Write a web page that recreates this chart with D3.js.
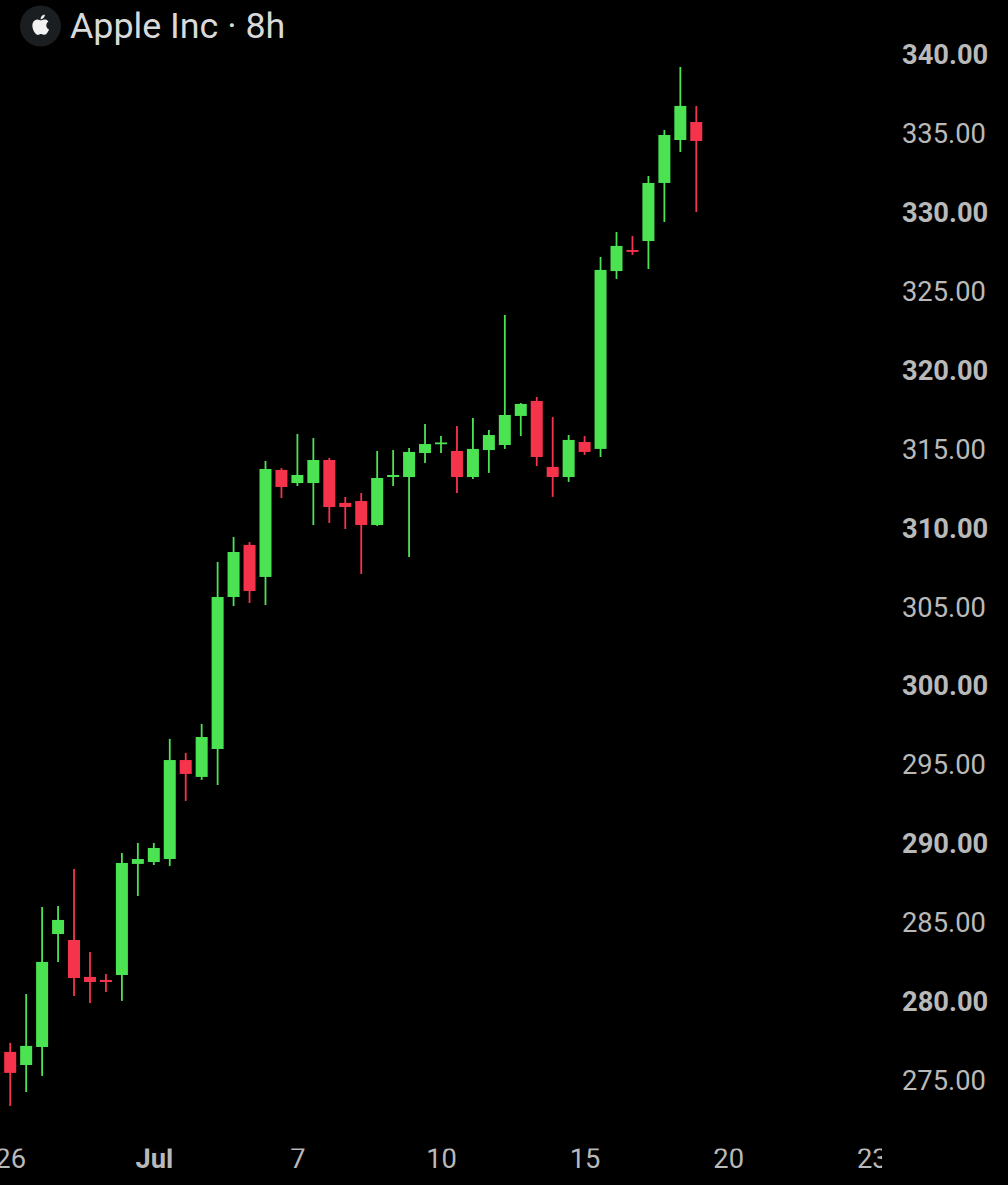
<!DOCTYPE html>
<html><head><meta charset="utf-8">
<script src="https://d3js.org/d3.v7.min.js"></script>
<style>html,body{margin:0;padding:0;background:#000;overflow:hidden}svg{display:block}</style>
</head><body><div id="chart"></div>
<script>
const title = "Apple Inc · 8h";
const opens = [276.78,275.95,277.09,284.25,283.87,281.53,281.34,281.65,288.69,288.81,289.0,295.27,294.2,295.97,305.6,308.9,306.87,313.65,312.82,312.82,314.28,311.56,311.68,310.16,313.2,313.2,314.72,315.29,314.85,313.2,314.91,315.23,317.07,318.02,313.84,313.2,315.42,314.98,326.25,327.58,328.15,331.83,334.55,335.69];
const highs = [277.35,280.45,285.96,286.03,288.37,283.11,281.72,289.38,290.02,290.02,296.61,295.72,297.56,307.82,309.4,309.08,314.22,313.77,315.93,315.67,314.41,311.94,312.19,314.85,314.91,315.04,316.56,315.8,316.43,316.94,316.18,323.47,317.89,318.27,317.0,315.86,315.8,327.14,328.72,328.47,332.27,335.19,339.18,336.71];
const lows = [273.36,274.24,275.26,282.48,280.32,279.88,280.58,280.01,286.66,288.62,288.56,292.68,294.01,293.69,305.03,305.22,305.09,311.87,312.63,310.16,310.29,309.91,307.06,310.1,312.63,308.13,314.09,314.72,312.19,313.08,313.46,314.98,315.8,313.9,311.94,312.89,314.6,314.47,325.75,327.27,326.38,329.36,333.79,329.99];
const closes = [275.45,277.16,282.48,285.14,281.46,281.21,281.21,288.75,289.0,289.7,295.27,294.39,296.73,305.6,308.45,305.98,313.71,312.57,313.33,314.28,311.3,311.3,310.16,313.14,313.33,314.79,315.29,315.39,313.2,314.98,315.86,317.13,317.83,314.47,313.2,315.55,314.79,326.32,327.84,327.46,331.83,334.87,336.71,334.49];
const xTickIndex = [0,9,18,27,36,45,54];
const xTickLabels = ["26","Jul","7","10","15","20","23"];
const xTickBold = ["Jul"];
const priceTicks = [340,335,330,325,320,315,310,305,300,295,290,285,280,275];
const priceBold = [340,330,320,310,300,290,280];
const upColor = "#4ce353", downColor = "#f5344c", labelColor = "#b9b9b9";

const W = 1008, H = 1185;
const svg = d3.select("#chart").append("svg").attr("width",W).attr("height",H)
  .style("background","#000").style("font-family","Roboto, sans-serif");
const x = d3.scaleLinear().domain([0,54]).range([10.2,871.8]);
const y = d3.scaleLinear().domain([275,340]).range([1080,54]);
svg.append("defs").append("clipPath").attr("id","plot").append("rect")
  .attr("x",0).attr("y",0).attr("width",882).attr("height",H);
const candles = d3.range(opens.length).map(i=>({i,o:opens[i],h:highs[i],l:lows[i],c:closes[i]}));
const g = svg.append("g").selectAll("g").data(candles).join("g")
  .attr("fill",d=>d.c>=d.o?upColor:downColor).attr("stroke",d=>d.c>=d.o?upColor:downColor);
g.append("line").attr("x1",d=>x(d.i)).attr("x2",d=>x(d.i)).attr("y1",d=>y(d.h)).attr("y2",d=>y(d.l))
  .attr("stroke-width",1.8);
g.append("rect").attr("stroke","none").attr("x",d=>x(d.i)-6).attr("width",12)
  .attr("y",d=>y(Math.max(d.o,d.c))).attr("height",d=>Math.max(1.8,Math.abs(y(d.o)-y(d.c))));

const yAxis = svg.append("g").attr("transform","translate(902,0.8)")
  .call(d3.axisRight(y).tickValues(priceTicks).tickSize(0).tickPadding(0).tickFormat(d3.format(".2f")));
yAxis.select(".domain").remove();
yAxis.selectAll("text").attr("fill",labelColor).style("font-family","Roboto, sans-serif").style("font-size","27.3px")
  .style("font-weight",d=>priceBold.includes(d)?700:400);

const xAxis = svg.append("g").attr("transform","translate(0,1148.5)").attr("clip-path","url(#plot)")
  .call(d3.axisBottom(x).tickValues(xTickIndex).tickSize(0).tickPadding(0).tickFormat((d,i)=>xTickLabels[i]));
xAxis.select(".domain").remove();
xAxis.selectAll("text").attr("fill",labelColor).attr("dy","0.71em").style("font-family","Roboto, sans-serif").style("font-size","27.3px")
  .style("font-weight",(d,i)=>xTickBold.includes(xTickLabels[i])?700:400);

svg.append("circle").attr("cx",40.5).attr("cy",26).attr("r",20.5).attr("fill","#1b1e21");
svg.append("path").attr("transform","translate(30.5,14.5) scale(0.85)").attr("fill","#f2f2f2")
  .attr("d","M12.152 6.896c-.948 0-2.415-1.078-3.96-1.04-2.04.027-3.91 1.183-4.961 3.014-2.117 3.675-.546 9.103 1.519 12.09 1.013 1.454 2.208 3.09 3.792 3.039 1.52-.065 2.09-.987 3.935-.987 1.831 0 2.35.987 3.96.948 1.637-.026 2.676-1.48 3.676-2.948 1.156-1.688 1.636-3.325 1.662-3.415-.039-.013-3.182-1.221-3.22-4.857-.026-3.04 2.48-4.494 2.597-4.559-1.429-2.09-3.623-2.324-4.39-2.376-2-.156-3.675 1.09-4.61 1.09zM15.53 3.83c.843-1.012 1.4-2.427 1.245-3.83-1.207.052-2.662.805-3.532 1.818-.78.896-1.454 2.338-1.273 3.714 1.338.104 2.715-.688 3.559-1.701");
svg.append("text").attr("x",70).attr("y",37.5).attr("fill","#d9d9d9").style("font-size","35.8px").text(title);
</script></body></html>
